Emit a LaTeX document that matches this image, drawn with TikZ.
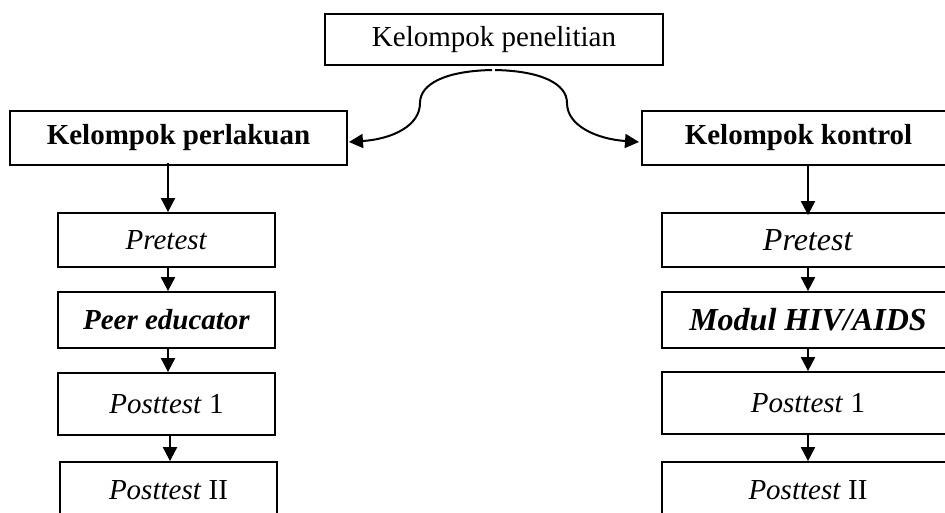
\documentclass[tikz,border=0pt]{standalone}
\usepackage{fontspec}
\setmainfont{Liberation Serif}
\usetikzlibrary{arrows.meta}
\begin{document}
\begin{tikzpicture}[x=1pt,y=-1pt,
  box/.style={draw,line width=1.8pt,inner sep=0pt,align=center,font=\fontsize{29}{33}\selectfont},
  bigbox/.style={box,font=\fontsize{32}{36}\selectfont},
  arr/.style={line width=2pt,-{Triangle[width=14pt,length=14pt]}}]
\useasboundingbox (0,0) rectangle (945,513);
\clip (0,0) rectangle (945,513);
\fill[white] (0,0) rectangle (945,513);
% top
\node[box,minimum width=338pt,minimum height=51pt] (top) at (494,39.5) {Kelompok penelitian};
% group heads
\node[box,minimum width=337pt,minimum height=54pt] (lk) at (178.5,138) {\textbf{Kelompok perlakuan}};
\node[box,minimum width=313pt,minimum height=54pt] (kk) at (798.5,138) {\textbf{Kelompok kontrol}};
% left column
\node[box,minimum width=217pt,minimum height=54pt] (lpre) at (166.5,240) {\textit{Pretest}};
\node[box,minimum width=217pt,minimum height=56pt] (lpeer) at (166.5,320) {\textbf{\textit{Peer educator}}};
\node[box,minimum width=217pt,minimum height=62pt] (lpost1) at (166.5,404) {\textit{Posttest} 1};
\node[box,minimum width=217pt,minimum height=56pt] (lpost2) at (168.5,490) {\textit{Posttest} II};
% right column
\node[bigbox,minimum width=292pt,minimum height=54pt] (rpre) at (808,240) {\textit{Pretest}};
\node[bigbox,minimum width=292pt,minimum height=56pt] (rmod) at (808,320) {\textbf{\textit{Modul HIV/AIDS}}};
\node[box,minimum width=292pt,minimum height=62pt] (rpost1) at (808,403) {\textit{Posttest} 1};
\node[box,minimum width=292pt,minimum height=56pt] (rpost2) at (808,490) {\textit{Posttest} II};
% curved split
\coordinate (cl) at (492,70);
\coordinate (cr) at (495,70);
\coordinate (tl) at (349,142);
\coordinate (tr) at (639,142);
\draw[arr] (cl) .. controls (445,71) and (420,84) .. (420,103) .. controls (420,126) and (392,139) .. (tl);
\draw[arr] (cr) .. controls (542,71) and (567,84) .. (567,103) .. controls (567,126) and (597,139) .. (tr);
% left arrows
\draw[arr] ([yshift=3pt]lk.south -| 168,0) -- (168,0 |- lpre.north);
\draw[arr] (168,0 |- lpre.south) -- (168,0 |- lpeer.north);
\draw[arr] (168,0 |- lpeer.south) -- (168,0 |- lpost1.north);
\draw[arr] (170,0 |- lpost1.south) -- (170,0 |- lpost2.north);
% right arrows
\draw[arr] (808,0 |- kk.south) -- ([yshift=-3pt]rpre.north);
\draw[arr] (rpre.south) -- (rmod.north);
\draw[arr] (rmod.south) -- (rpost1.north);
\draw[arr] (rpost1.south) -- (rpost2.north);
\end{tikzpicture}
\end{document}
